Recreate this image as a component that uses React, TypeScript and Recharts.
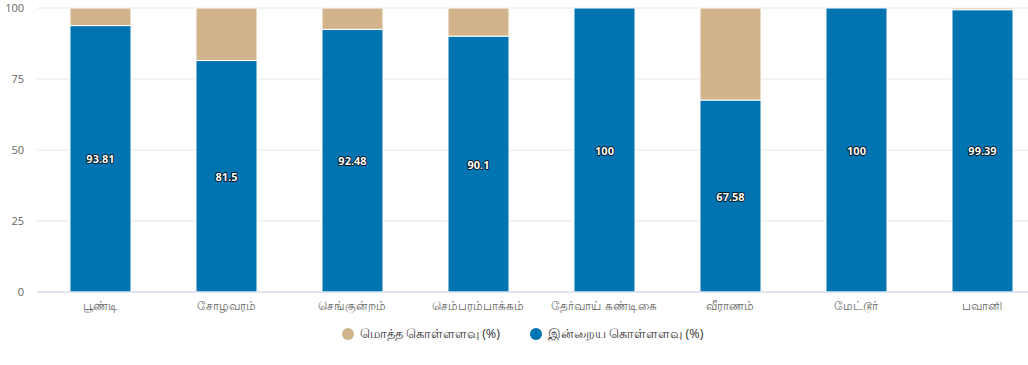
import React from 'react';
import { BarChart, Bar, XAxis, YAxis, CartesianGrid, Legend, LabelList } from 'recharts';

const categories = ['பூண்டி', 'சோழவரம்', 'செங்குன்றம்', 'செம்பரம்பாக்கம்', 'தேர்வாய் கண்டிகை', 'வீராணம்', 'மேட்டூர்', 'பவானி'];
const currentValues = [93.81, 81.5, 92.48, 90.1, 100, 67.58, 100, 99.39];
const totalValues = [6.19, 18.5, 7.52, 9.9, 0, 32.42, 0, 0.61];
const yTicks = [0, 25, 50, 75, 100];
const seriesNames = ['மொத்த கொள்ளளவு (%)', 'இன்றைய கொள்ளளவு (%)'];

const BLUE = '#0073b1';
const TAN = '#d2b48c';

const data = categories.map((name, i) => ({
  name,
  current: currentValues[i],
  total: totalValues[i],
}));

const FONT = '"Open Sans", "Noto Sans", "DejaVu Sans", sans-serif';

const renderLabel = (props: any) => {
  const { x, y, width, height, value } = props;
  const cx = x + width / 2;
  const cy = y + height / 2;
  return (
    <text
      x={cx}
      y={cy}
      textAnchor="middle"
      dominantBaseline="central"
      fill="#fff"
      stroke="#000"
      strokeWidth={1.6}
      strokeLinejoin="round"
      paintOrder="stroke"
      style={{ fontSize: 11, fontWeight: 700, fontFamily: FONT }}
    >
      {value}
    </text>
  );
};

const LegendContent = () => (
  <div
    style={{
      height: 30,
      display: 'flex',
      justifyContent: 'center',
      alignItems: 'center',
      fontFamily: FONT,
      fontSize: 12.6,
      color: '#333',
    }}
  >
    {[TAN, BLUE].map((c, i) => (
      <div key={i} style={{ display: 'flex', alignItems: 'center', marginLeft: i ? 30 : 0 }}>
        <span
          style={{
            display: 'inline-block',
            width: 12,
            height: 12,
            borderRadius: 6,
            background: c,
            marginRight: 6,
          }}
        />
        <span>{seriesNames[i]}</span>
      </div>
    ))}
  </div>
);

export default function App() {
  return (
    <div style={{ position: 'absolute', left: 0, top: 0, width: 1028, height: 365, overflow: 'hidden', background: '#fff' }}>
      <BarChart
        width={1050}
        height={365}
        data={data}
        margin={{ top: 8, right: 5, bottom: 16, left: 0 }}
        barCategoryGap={0}
      >
        <CartesianGrid vertical={false} stroke="#e6e6e6" />
        <XAxis
          dataKey="name"
          height={27}
          tickLine={false}
          tickSize={7}
          axisLine={{ stroke: '#ccd6eb' }}
          tick={{ fontSize: 12, fill: '#666', fontFamily: FONT }}
          interval={0}
        />
        <YAxis
          width={37}
          domain={[0, 100]}
          ticks={yTicks}
          axisLine={false}
          tickLine={false}
          tickSize={0}
          tickMargin={13}
          tick={{ fontSize: 11, fill: '#666', fontFamily: FONT }}
        />
        <Legend verticalAlign="bottom" content={<LegendContent />} />
        <Bar dataKey="current" stackId="a" fill={BLUE} stroke="#fff" strokeWidth={1} barSize={61} isAnimationActive={false}>
          <LabelList dataKey="current" content={renderLabel} />
        </Bar>
        <Bar dataKey="total" stackId="a" fill={TAN} stroke="#fff" strokeWidth={1} barSize={61} isAnimationActive={false} />
      </BarChart>
    </div>
  );
}
